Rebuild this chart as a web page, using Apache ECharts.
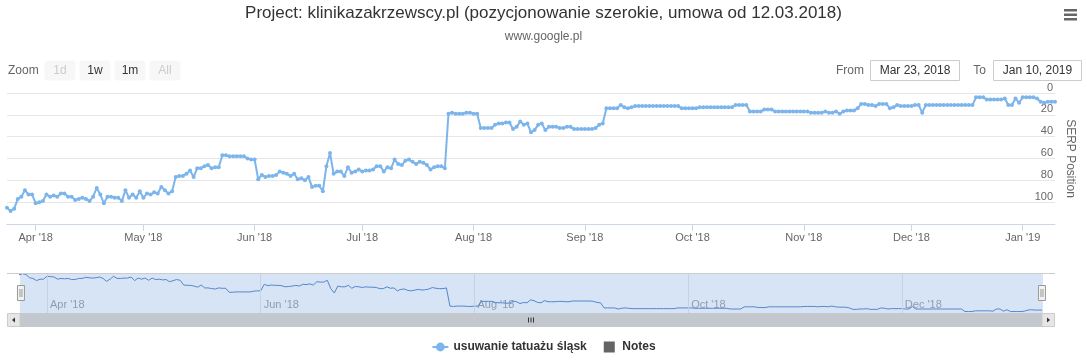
<!DOCTYPE html>
<html><head><meta charset="utf-8">
<script src="https://cdn.jsdelivr.net/npm/echarts@6/dist/echarts.min.js"></script>
<style>html,body{margin:0;padding:0;background:#fff}#c{width:1087px;height:360px}</style>
</head><body><div id="c"></div>
<script>
const chartTitle = 'Project: klinikazakrzewscy.pl (pozycjonowanie szerokie, umowa od 12.03.2018)';
const chartSubtitle = 'www.google.pl';
const seriesName = 'usuwanie tatuażu śląsk';
const notesName = 'Notes';
const yAxisName = 'SERP Position';
const firstDay = '2018-03-24';
const lastDay = '2019-01-10';
// daily SERP positions from 2018-03-24 to 2019-01-10
const positions = [
 105,108,106,97,95,89,93,93,101,100,
 99,93,95,94,95,92,92,95,95,98,
 97,96,97,99,95,87,93,101,95,95,
 96,96,99,89,96,93,96,90,96,92,
 93,91,92,86,89,92,90,77,76,76,
 74,71,77,69,69,67,66,69,68,68,
 57,57,58,58,58,58,58,60,61,61,
 79,75,77,76,76,75,72,73,74,76,
 74,79,78,80,77,86,85,85,90,67,
 55,74,72,72,76,68,73,72,70,72,
 71,71,70,67,67,72,68,69,61,65,
 66,62,61,63,65,63,64,66,70,68,
 67,67,69,19,18,19,19,19,18,18,
 19,19,32,32,32,32,29,28,28,27,
 27,33,31,26,29,28,36,34,29,28,
 34,31,31,31,32,32,31,31,33,33,
 33,33,33,33,32,29,28,14,14,14,
 14,11,13,14,13,12,12,12,12,12,
 12,12,12,12,12,12,12,12,14,14,
 14,14,14,13,13,13,13,13,13,13,
 13,13,13,11,11,11,11,17,17,17,
 17,15,15,15,17,17,17,17,17,17,
 17,17,17,17,18,18,18,18,17,18,
 18,17,19,17,16,16,16,14,10,10,
 11,11,12,10,10,10,14,13,11,12,
 12,12,12,11,11,18,11,11,11,11,
 11,11,11,11,11,11,11,11,11,11,
 4,4,4,6,6,6,6,6,5,11,
 11,5,9,4,4,4,4,5,8,9,
 8,8,8
];
const navTicks = ['2018-04-01','2018-06-01','2018-08-01','2018-10-01','2018-12-01'];
const monthNames = ['Jan','Feb','Mar','Apr','May','Jun','Jul','Aug','Sep','Oct','Nov','Dec'];
const zoomButtons = ['1d','1w','1m','All'];
const zoomDisabled = [true,false,false,true];
const fromText = 'Mar 23, 2018';
const toText = 'Jan 10, 2019';

const FONT = "'Liberation Sans', Arial, sans-serif";
const DAY = 86400000;
const t0 = new Date(firstDay).getTime();
const tEnd = new Date(lastDay).getTime();
const seriesData = positions.map((v, i) => [t0 + i * DAY, v]);
const toTs = s => new Date(s).getTime();
const navTs = navTicks.map(toTs);
const fmtMonth = v => { const d = new Date(v); return monthNames[d.getUTCMonth()] + " '" + String(d.getUTCFullYear()).slice(2); };
const fmtNav = v => (navTs.indexOf(v) >= 0 ? fmtMonth(v) : '');

const chart = echarts.init(document.getElementById('c'), null, {renderer: 'canvas'});

const g = [];
const txt = (text, x, y, size, fill, align) => ({type:'text', style:{text, x, y, font: size + 'px ' + FONT, fill, align, textAlign: align, verticalAlign:'middle', textVerticalAlign:'middle'}});
g.push(txt('Zoom', 8, 71, 12, '#666666', 'left'));
zoomButtons.forEach((b, i) => {
  const cx = 60 + 35 * i;
  g.push({type:'rect', shape:{x:cx-15, y:61, width:30, height:19, r:2}, style:{fill:'#f7f7f7', stroke:'#f7f7f7'}});
  g.push(txt(b, cx, 71, 12, zoomDisabled[i] ? '#cccccc' : '#333333', 'center'));
});
g.push(txt('From', 864, 71, 12, '#666666', 'right'));
g.push({type:'rect', shape:{x:870.5, y:60.5, width:89, height:20}, style:{fill:'#ffffff', stroke:'#cccccc', lineWidth:1}});
g.push(txt(fromText, 915, 71, 12, '#333333', 'center'));
g.push(txt('To', 986, 71, 12, '#666666', 'right'));
g.push({type:'rect', shape:{x:993.5, y:60.5, width:88, height:20}, style:{fill:'#ffffff', stroke:'#cccccc', lineWidth:1}});
g.push(txt(toText, 1037.5, 71, 12, '#333333', 'center'));
[9, 13.5, 18].forEach(y => g.push({type:'rect', shape:{x:1064, y:y, width:13, height:2.5}, style:{fill:'#666666'}}));
g.push({type:'line', shape:{x1:7, y1:273.5, x2:1055, y2:273.5}, style:{stroke:'#cccccc', lineWidth:1}, z:20});
g.push({type:'rect', shape:{x:7.5, y:313.5, width:1047, height:13}, style:{fill:'#f2f2f2', stroke:'#f2f2f2'}});
g.push({type:'rect', shape:{x:20, y:313.5, width:1022, height:13}, style:{fill:'#c3c8cf', stroke:'#c3c8cf'}});
g.push({type:'rect', shape:{x:7.5, y:313.5, width:12.5, height:13}, style:{fill:'#e6e6e6', stroke:'#cccccc'}});
g.push({type:'rect', shape:{x:1042, y:313.5, width:12.5, height:13}, style:{fill:'#e6e6e6', stroke:'#cccccc'}});
g.push({type:'polygon', shape:{points:[[15,317.5],[15,322.5],[12,320]]}, style:{fill:'#333333'}});
g.push({type:'polygon', shape:{points:[[1047,317.5],[1047,322.5],[1050,320]]}, style:{fill:'#333333'}});
[528.5, 531, 533.5].forEach(x => g.push({type:'line', shape:{x1:x, y1:317.5, x2:x, y2:322.5}, style:{stroke:'#333333', lineWidth:1}}));

const option = {
  useUTC: true,
  animation: false,
  backgroundColor: '#ffffff',
  textStyle: {fontFamily: FONT},
  title: [
    {text: chartTitle, left: 'center', top: 5, padding: 0, textStyle: {fontSize: 17, fontWeight: 'normal', color: '#333333', fontFamily: FONT}},
    {text: chartSubtitle, left: 'center', top: 31, padding: 0, textStyle: {fontSize: 12, fontWeight: 'normal', color: '#666666', fontFamily: FONT}}
  ],
  legend: {
    left: 'center', top: 341, padding: 0, itemGap: 17, itemWidth: 16, itemHeight: 11,
    data: [{name: seriesName}, {name: notesName, icon: 'path://M0,0L10,0L10,10L0,10Z'}],
    textStyle: {fontSize: 12, fontWeight: 'bold', color: '#333333', fontFamily: FONT}
  },
  grid: [
    {left: 7, right: 32, top: 93, height: 131},
    {left: 19, right: 45, top: 273, height: 40}
  ],
  xAxis: [
    {type: 'time', gridIndex: 0, min: t0, max: tEnd, minInterval: 28 * DAY, maxInterval: 31 * DAY,
     axisLine: {show: true, onZero: false, lineStyle: {color: '#ccd6eb'}},
     axisTick: {show: true, length: 7, lineStyle: {color: '#ccd6eb'}},
     axisLabel: {color: '#666666', fontSize: 11, margin: 8, formatter: fmtMonth, fontFamily: FONT, hideOverlap: false},
     splitLine: {show: false}},
    {type: 'time', gridIndex: 1, min: t0, max: tEnd, minInterval: 28 * DAY, maxInterval: 31 * DAY,
     axisLine: {show: false, onZero: false}, axisTick: {show: false},
     axisLabel: {inside: true, color: '#999999', fontSize: 11, margin: 3, align: 'left', padding: [0,0,0,3], verticalAlign: 'bottom', formatter: fmtNav, fontFamily: FONT, hideOverlap: false},
     splitLine: {show: false}}
  ],
  yAxis: [
    {type: 'value', gridIndex: 0, position: 'right', inverse: true, min: 0, max: 120, interval: 20,
     name: yAxisName, nameLocation: 'middle', nameRotate: -90, nameGap: -2,
     nameTextStyle: {color: '#666666', fontSize: 12, fontFamily: FONT},
     axisLine: {show: false}, axisTick: {show: false},
     axisLabel: {inside: true, margin: 2, color: '#666666', fontSize: 11, verticalAlign: 'bottom', fontFamily: FONT,
       formatter: v => (v === 120 ? '' : String(v))},
     splitLine: {show: true, lineStyle: {color: '#e6e6e6', width: 1}}},
    {type: 'value', gridIndex: 1, min: 0, max: 110, show: false}
  ],
  dataZoom: [{
    type: 'slider', xAxisIndex: 0, filterMode: 'none',
    left: 19, right: 45, top: 273, height: 40, start: 0, end: 100,
    showDataShadow: false, showDetail: false, brushSelect: false, moveHandleSize: 0,
    backgroundColor: 'rgba(0,0,0,0)', borderColor: 'rgba(0,0,0,0)',
    fillerColor: 'rgba(120,165,225,0.3)',
    handleIcon: 'path://M0.5,0.5L7.5,0.5L7.5,15.5L0.5,15.5Z M3,4L3,12 M5,4L5,12',
    handleSize: 15,
    handleStyle: {color: '#f2f2f2', borderColor: '#999999', borderWidth: 1},
    emphasis: {handleStyle: {color: '#f2f2f2', borderColor: '#999999', borderWidth: 1}},
    z: 10
  }],
  series: [
    {name: seriesName, type: 'line', xAxisIndex: 0, yAxisIndex: 0, data: seriesData,
     showSymbol: true, symbol: 'circle', symbolSize: 4,
     lineStyle: {color: '#7cb5ec', width: 2}, itemStyle: {color: '#7cb5ec'}},
    {name: notesName, type: 'scatter', xAxisIndex: 0, yAxisIndex: 0, data: [], itemStyle: {color: '#3d3d3d'}},
    {name: 'navigator', type: 'line', xAxisIndex: 1, yAxisIndex: 1, data: seriesData, showSymbol: false,
     lineStyle: {color: '#4a78c2', width: 1}, silent: true,
     markLine: {silent: true, symbol: 'none', label: {show: false}, lineStyle: {color: '#e6e6e6', width: 1, type: 'solid'},
       data: navTs.map(t => ({xAxis: t}))}}
  ],
  graphic: {elements: g}
};
chart.setOption(option);
</script></body></html>
